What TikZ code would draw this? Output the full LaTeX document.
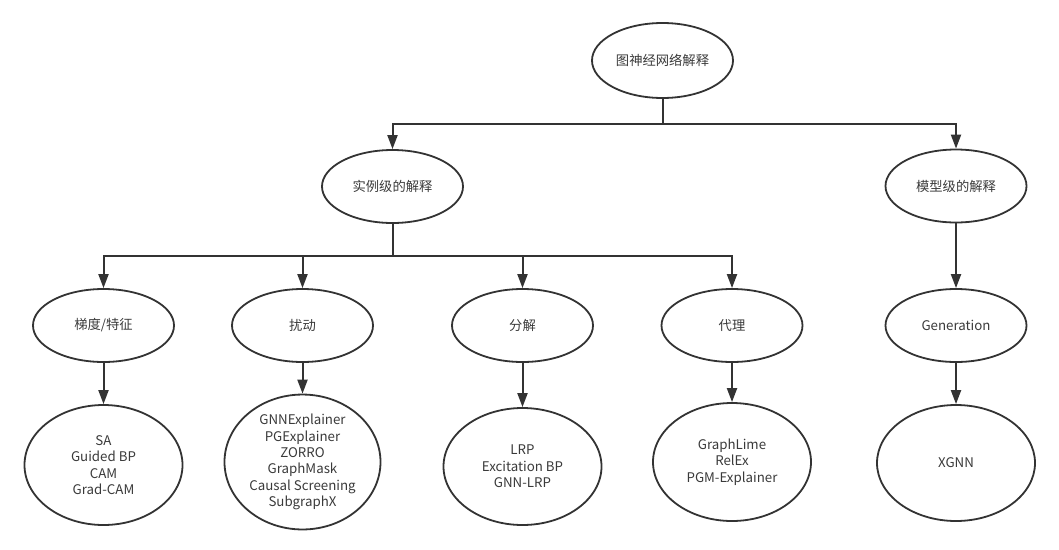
\documentclass[tikz,border=0pt]{standalone}
\usepackage{fontspec}
\setmainfont{Noto Sans CJK SC}
\usetikzlibrary{shapes.geometric,arrows.meta}
\definecolor{ink}{HTML}{333333}
\definecolor{txt}{HTML}{3a3a3a}
\tikzset{
  ell/.style={ellipse,draw=ink,line width=1.8pt,inner sep=0pt,align=center,text=txt,
    font=\fontsize{13.3}{16.3}\selectfont},
  mid/.style={ell,minimum width=141pt,minimum height=73pt},
  leaf/.style={ell,minimum width=158pt,minimum height=120pt},
  conn/.style={draw=ink,line width=2pt},
  arr/.style={conn,-{Triangle[length=14pt,width=10pt]}}
}
\begin{document}
\begin{tikzpicture}[x=1pt,y=1pt]
\useasboundingbox (0,0) rectangle (1059,-549);
\node[mid,minimum height=75pt] (root) at (662.5,-60.5) {图神经网络解释};
\node[mid] (inst) at (392.5,-186.5) {实例级的解释};
\node[mid] (model) at (956,-186) {模型级的解释};
\node[mid] (grad) at (103.5,-325.5) {梯度/特征};
\node[mid] (pert) at (302.5,-325.5) {扰动};
\node[mid] (deco) at (522.5,-325.5) {分解};
\node[mid] (surr) at (732,-325.5) {代理};
\node[mid] (gen) at (956,-325.5) {Generation};
\node[leaf] (gradl) at (103.5,-465) {SA\\Guided BP\\CAM\\Grad-CAM};
\node[leaf,minimum width=156pt] (pertl) at (302.5,-462) {GNNExplainer\\PGExplainer\\ZORRO\\GraphMask\\Causal Screening\\SubgraphX};
\node[leaf,minimum height=117pt] (decol) at (522.5,-466.5) {LRP\\Excitation BP\\GNN-LRP};
\node[leaf,minimum height=118pt] (surrl) at (732,-462) {GraphLime\\RelEx\\PGM-Explainer};
\node[leaf,minimum height=116pt] (xgnnl) at (956,-463) {XGNN};
\coordinate (b1) at (662.5,-124);
\coordinate (b2) at (392.5,-256);
\draw[conn] (root.south) -- (b1);
\draw[arr] (b1) -| (inst.north);
\draw[arr] (b1) -| (model.north);
\draw[conn] (inst.south) -- (b2);
\draw[arr] (b2) -| (grad.north);
\draw[arr] (b2) -| (pert.north);
\draw[arr] (b2) -| (deco.north);
\draw[arr] (b2) -| (surr.north);
\draw[arr] (model.south) -- (gen.north);
\draw[arr] (grad.south) -- (gradl.north);
\draw[arr] (pert.south) -- (pertl.north);
\draw[arr] (deco.south) -- (decol.north);
\draw[arr] (surr.south) -- (surrl.north);
\draw[arr] (gen.south) -- (xgnnl.north);
\end{tikzpicture}
\end{document}
